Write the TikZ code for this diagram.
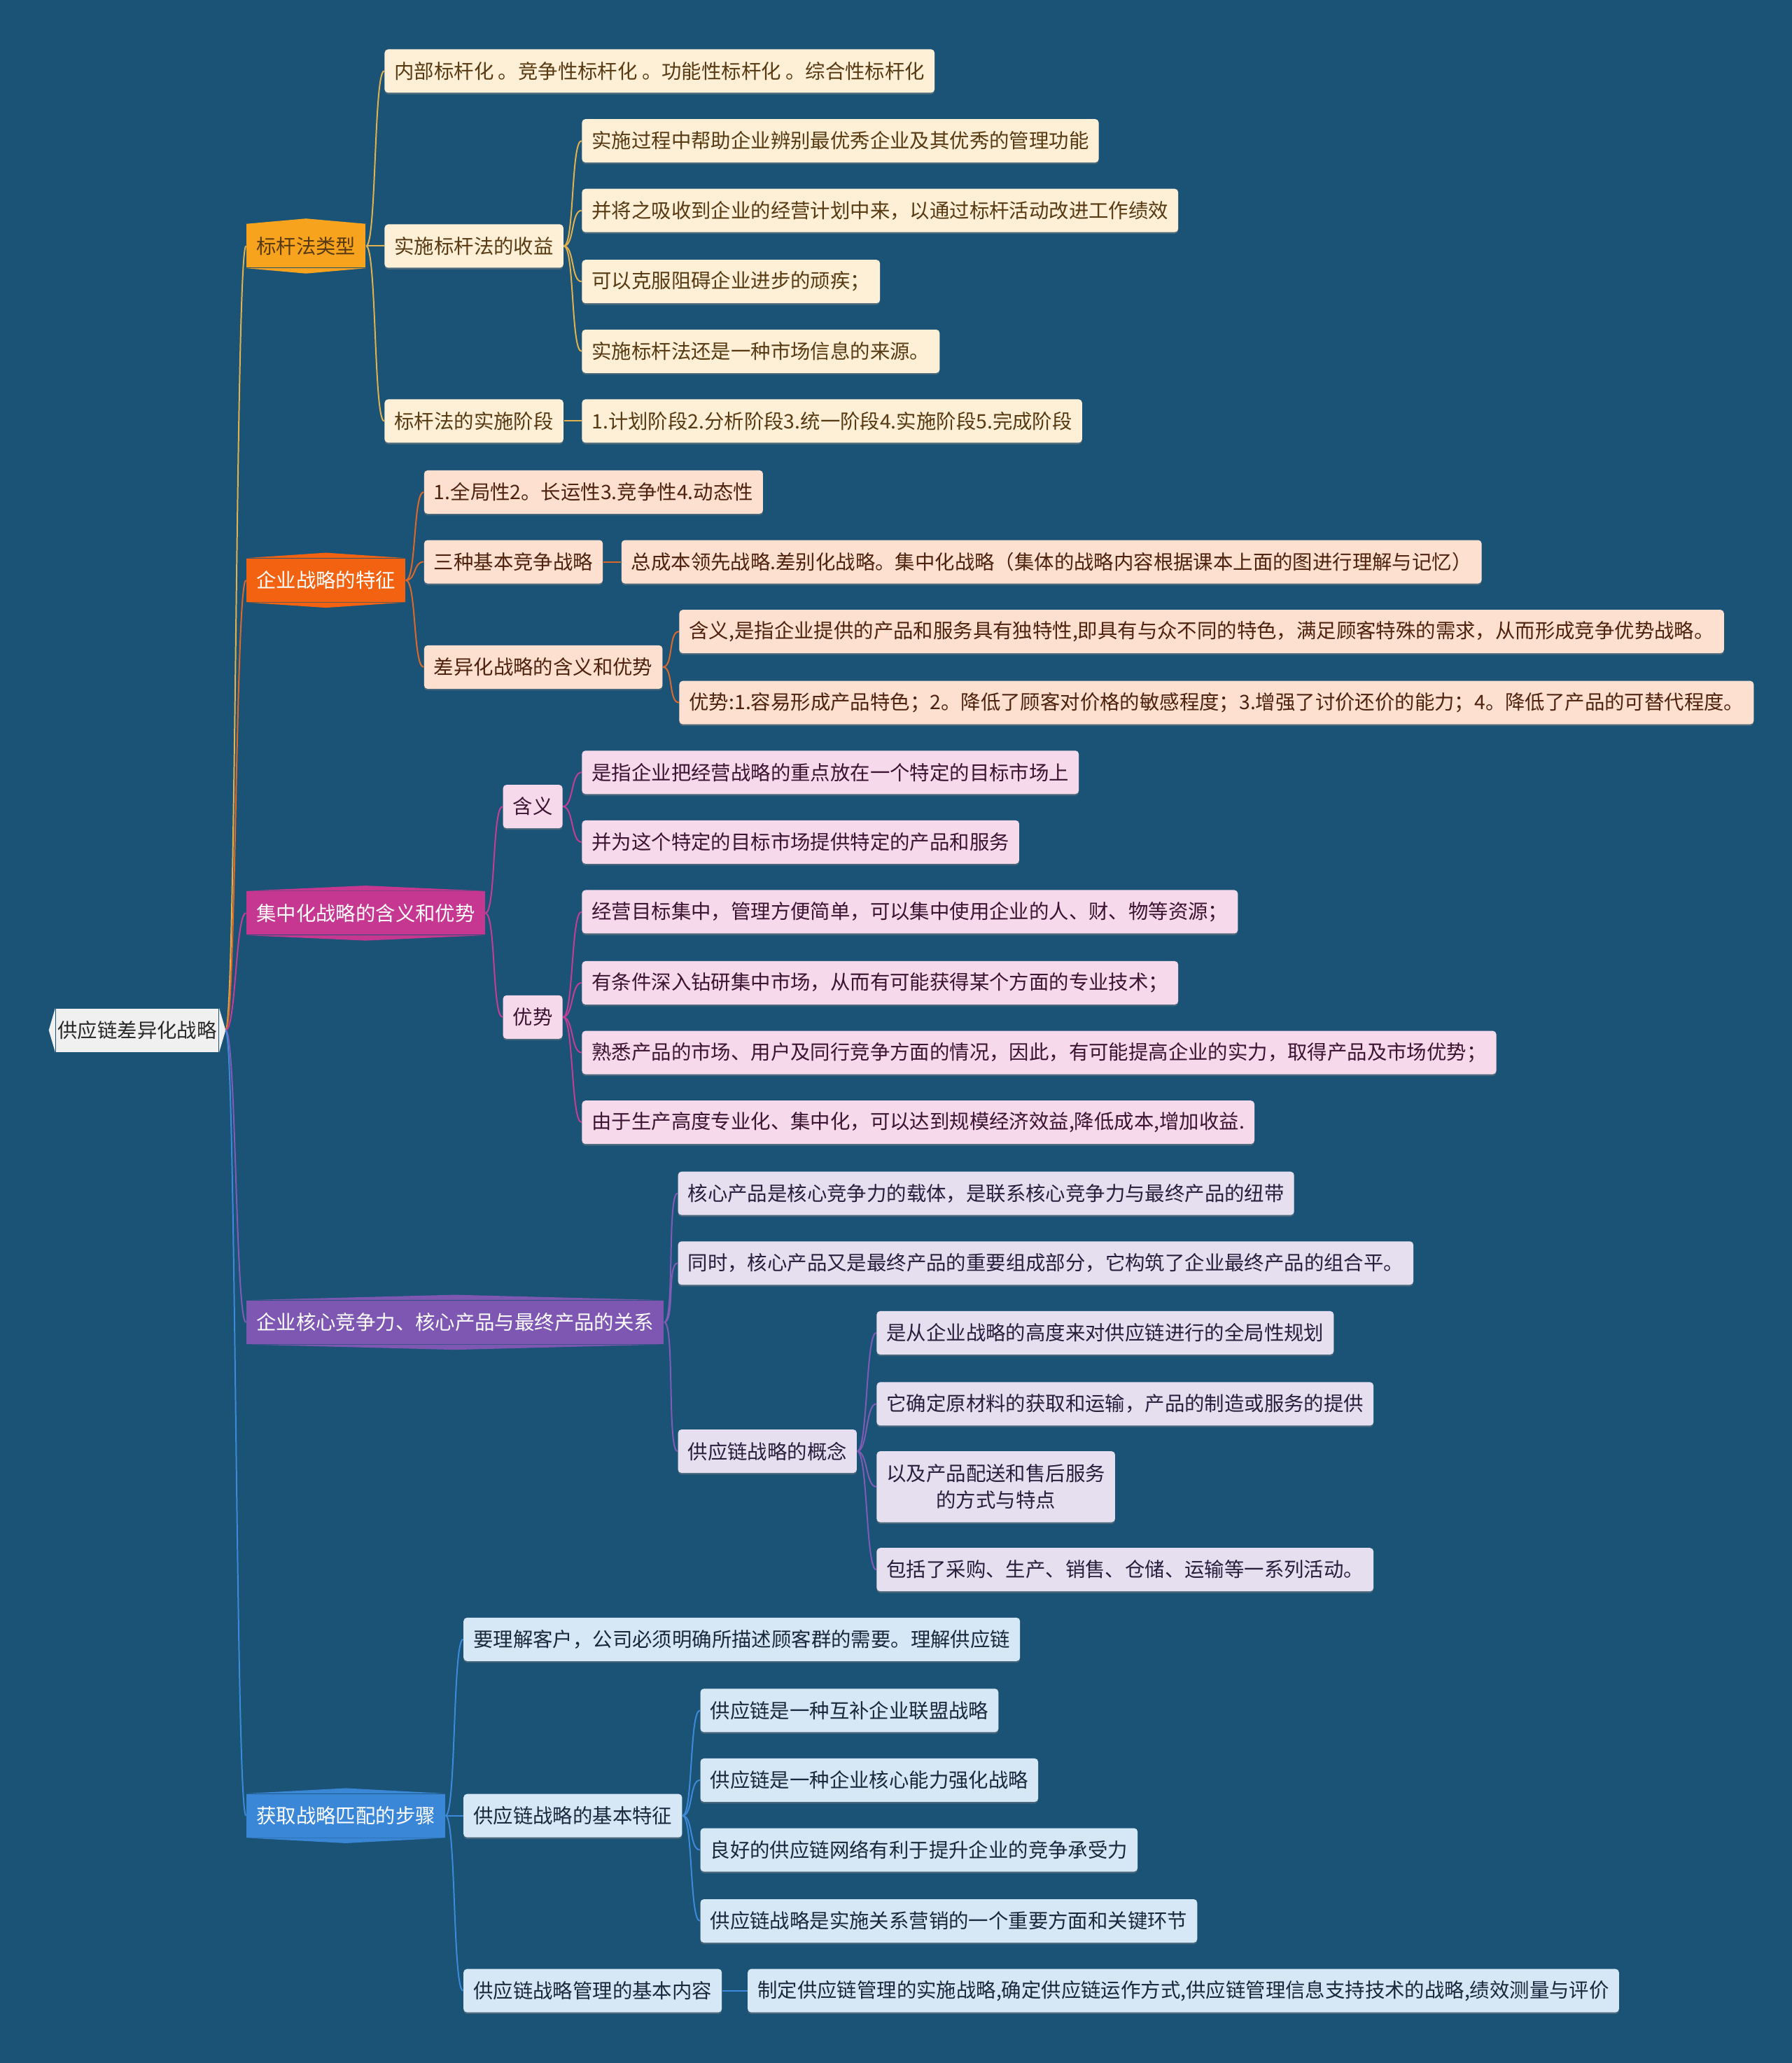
\documentclass[tikz,border=0pt]{standalone}
\usepackage{fontspec}
\setmainfont{Noto Sans CJK SC}
\usepackage{xcolor}
\usepackage{tikz}
\usetikzlibrary{shadows}

\definecolor{bgblue}{RGB}{27,83,119}
\definecolor{rootgray}{RGB}{240,240,240}
\definecolor{roottext}{RGB}{40,40,40}
% 五个分支的颜色
\definecolor{topA}{RGB}{248,163,30}
\definecolor{fillA}{RGB}{253,240,214}
\definecolor{textA}{RGB}{88,58,18}
\definecolor{lineA}{RGB}{226,178,78}
\definecolor{topB}{RGB}{242,98,16}
\definecolor{fillB}{RGB}{253,224,208}
\definecolor{textB}{RGB}{78,34,14}
\definecolor{lineB}{RGB}{222,104,40}
\definecolor{topC}{RGB}{198,55,145}
\definecolor{fillC}{RGB}{246,217,234}
\definecolor{textC}{RGB}{60,20,50}
\definecolor{lineC}{RGB}{196,62,150}
\definecolor{topD}{RGB}{126,87,178}
\definecolor{fillD}{RGB}{229,223,240}
\definecolor{textD}{RGB}{40,30,60}
\definecolor{lineD}{RGB}{128,92,182}
\definecolor{topE}{RGB}{58,135,216}
\definecolor{fillE}{RGB}{214,231,246}
\definecolor{textE}{RGB}{25,40,60}
\definecolor{lineE}{RGB}{62,138,218}

\begin{document}
\begin{tikzpicture}[x=0.02cm,y=-0.02cm,
    base/.style={anchor=west,inner xsep=0.15cm,inner ysep=0pt,minimum height=0.66cm,
      font=\fontsize{8.6pt}{11.3pt}\selectfont},
    leaf/.style={base,rounded corners=1.5pt,
      drop shadow={shadow xshift=0pt,shadow yshift=-0.7pt,opacity=0.45}},
    topic/.style={base,fill=#1,text=white},
    boxA/.style={leaf,fill=fillA,text=textA},
    boxB/.style={leaf,fill=fillB,text=textB},
    boxC/.style={leaf,fill=fillC,text=textC},
    boxD/.style={leaf,fill=fillD,text=textD},
    boxE/.style={leaf,fill=fillE,text=textE},
    link/.style={line width=0.6pt,draw=#1}]

    % 背景
    \fill[bgblue] (0,0) rectangle (1362,1568);

    % 根节点
    \node[base,inner xsep=0.03cm,fill=rootgray,text=roottext] (root) at (42,783) {供应链差异化战略};
    \fill[rootgray] (root.north west) -- ([xshift=-2.8pt]root.west) -- (root.south west) -- cycle;
    \fill[rootgray] (root.north east) -- ([xshift=2.8pt]root.east) -- (root.south east) -- cycle;
    \coordinate (rtip) at ([xshift=2.8pt]root.east);

    % 一级主题
    \node[topic=topA,text=textA] (bg) at (187,187) {标杆法类型};
    \node[topic=topB] (zl) at (187,441) {企业战略的特征};
    \node[topic=topC] (jz) at (187,694) {集中化战略的含义和优势};
    \node[topic=topD] (hx) at (187,1005) {企业核心竞争力、核心产品与最终产品的关系};
    \node[topic=topE] (hq) at (187,1380) {获取战略匹配的步骤};
    \foreach \n/\c in {bg/topA,zl/topB,jz/topC,hx/topD,hq/topE}{
      \fill[\c] (\n.north west) -- ([yshift=2.3pt]\n.north) -- (\n.north east) -- cycle;
      \fill[\c] (\n.south west) -- ([yshift=-2.3pt]\n.south) -- (\n.south east) -- cycle;
    }

    % 标杆法
    \node[boxA] (bg1) at (292,54) {内部标杆化 。竞争性标杆化 。功能性标杆化 。综合性标杆化};
    \node[boxA] (bg2) at (292,187) {实施标杆法的收益};
    \node[boxA] (bg3) at (292,320) {标杆法的实施阶段};
    \node[boxA] (bg21) at (442,107) {实施过程中帮助企业辨别最优秀企业及其优秀的管理功能};
    \node[boxA] (bg22) at (442,160) {并将之吸收到企业的经营计划中来，以通过标杆活动改进工作绩效};
    \node[boxA] (bg23) at (442,214) {可以克服阻碍企业进步的顽疾；};
    \node[boxA] (bg24) at (442,267) {实施标杆法还是一种市场信息的来源。};
    \node[boxA] (bg31) at (442,320) {1.计划阶段2.分析阶段3.统一阶段4.实施阶段5.完成阶段};

    % 企业战略
    \node[boxB] (zl1) at (322,374) {1.全局性2。长运性3.竞争性4.动态性};
    \node[boxB] (zl2) at (322,427) {三种基本竞争战略};
    \node[boxB] (zl3) at (322,507) {差异化战略的含义和优势};
    \node[boxB] (zl21) at (472,427) {总成本领先战略.差别化战略。集中化战略（集体的战略内容根据课本上面的图进行理解与记忆）};
    \node[boxB] (zl31) at (516,480) {含义,是指企业提供的产品和服务具有独特性,即具有与众不同的特色，满足顾客特殊的需求，从而形成竞争优势战略。};
    \node[boxB] (zl32) at (516,534) {优势:1.容易形成产品特色；2。降低了顾客对价格的敏感程度；3.增强了讨价还价的能力；4。降低了产品的可替代程度。};

    % 集中化战略
    \node[boxC] (jz1) at (382,613) {含义};
    \node[boxC] (jz2) at (382,773) {优势};
    \node[boxC] (jz11) at (442,587) {是指企业把经营战略的重点放在一个特定的目标市场上};
    \node[boxC] (jz12) at (442,640) {并为这个特定的目标市场提供特定的产品和服务};
    \node[boxC] (jz21) at (442,693) {经营目标集中，管理方便简单，可以集中使用企业的人、财、物等资源；};
    \node[boxC] (jz22) at (442,747) {有条件深入钻研集中市场，从而有可能获得某个方面的专业技术；};
    \node[boxC] (jz23) at (442,800) {熟悉产品的市场、用户及同行竞争方面的情况，因此，有可能提高企业的实力，取得产品及市场优势；};
    \node[boxC] (jz24) at (442,853) {由于生产高度专业化、集中化，可以达到规模经济效益,降低成本,增加收益.};

    % 核心竞争力
    \node[boxD] (hx1) at (515,907) {核心产品是核心竞争力的载体，是联系核心竞争力与最终产品的纽带};
    \node[boxD] (hx2) at (515,960) {同时，核心产品又是最终产品的重要组成部分，它构筑了企业最终产品的组合平。};
    \node[boxD] (hx3) at (515,1103) {供应链战略的概念};
    \node[boxD] (hx31) at (666,1013) {是从企业战略的高度来对供应链进行的全局性规划};
    \node[boxD] (hx32) at (666,1067) {它确定原材料的获取和运输，产品的制造或服务的提供};
    \node[boxD,align=center,minimum height=1.08cm] (hx33) at (666,1130) {以及产品配送和售后服务\\的方式与特点};
    \node[boxD] (hx34) at (666,1193) {包括了采购、生产、销售、仓储、运输等一系列活动。};

    % 战略匹配
    \node[boxE] (hq1) at (352,1246) {要理解客户，公司必须明确所描述顾客群的需要。理解供应链};
    \node[boxE] (hq2) at (352,1380) {供应链战略的基本特征};
    \node[boxE] (hq3) at (352,1513) {供应链战略管理的基本内容};
    \node[boxE] (hq21) at (532,1300) {供应链是一种互补企业联盟战略};
    \node[boxE] (hq22) at (532,1353) {供应链是一种企业核心能力强化战略};
    \node[boxE] (hq23) at (532,1406) {良好的供应链网络有利于提升企业的竞争承受力};
    \node[boxE] (hq24) at (532,1460) {供应链战略是实施关系营销的一个重要方面和关键环节};
    \node[boxE] (hq31) at (568,1513) {制定供应链管理的实施战略,确定供应链运作方式,供应链管理信息支持技术的战略,绩效测量与评价};

    % 连线
    \foreach \b/\c in {bg/lineA,zl/lineB,jz/lineC,hx/lineD,hq/lineE}
      \draw[link=\c] (rtip) .. controls +(8,0) and +(-8,0) .. (\b.west);
    \foreach \a/\b in {bg/bg1,bg/bg2,bg/bg3,bg2/bg21,bg2/bg22,bg2/bg23,bg2/bg24,bg3/bg31}
      \draw[link=lineA] (\a.east) .. controls +(8,0) and +(-8,0) .. (\b.west);
    \foreach \a/\b in {zl/zl1,zl/zl2,zl/zl3,zl2/zl21,zl3/zl31,zl3/zl32}
      \draw[link=lineB] (\a.east) .. controls +(8,0) and +(-8,0) .. (\b.west);
    \foreach \a/\b in {jz/jz1,jz/jz2,jz1/jz11,jz1/jz12,jz2/jz21,jz2/jz22,jz2/jz23,jz2/jz24}
      \draw[link=lineC] (\a.east) .. controls +(8,0) and +(-8,0) .. (\b.west);
    \foreach \a/\b in {hx/hx1,hx/hx2,hx/hx3,hx3/hx31,hx3/hx32,hx3/hx33,hx3/hx34}
      \draw[link=lineD] (\a.east) .. controls +(8,0) and +(-8,0) .. (\b.west);
    \foreach \a/\b in {hq/hq1,hq/hq2,hq/hq3,hq2/hq21,hq2/hq22,hq2/hq23,hq2/hq24,hq3/hq31}
      \draw[link=lineE] (\a.east) .. controls +(8,0) and +(-8,0) .. (\b.west);
\end{tikzpicture}
\end{document}
